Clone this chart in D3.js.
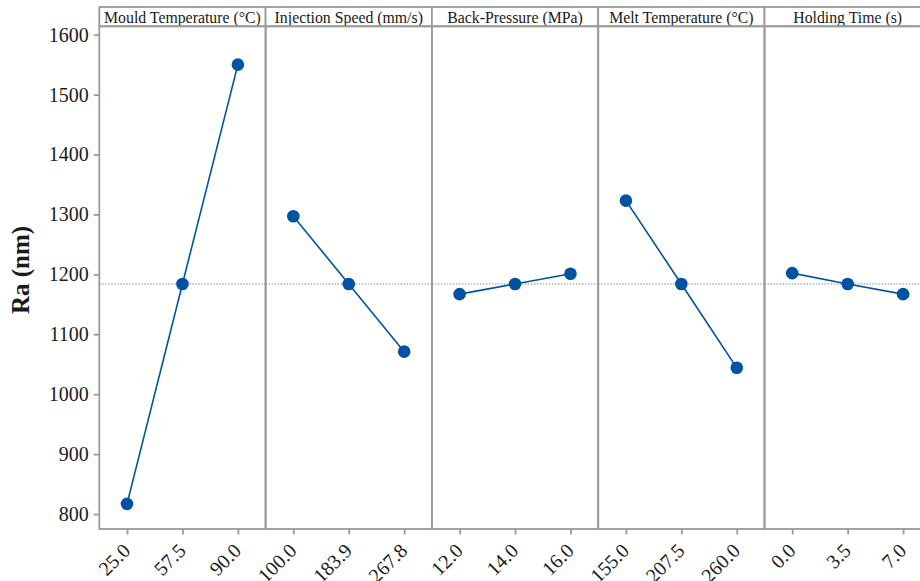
<!DOCTYPE html>
<html>
<head>
<meta charset="utf-8">
<script src="https://cdn.jsdelivr.net/npm/d3@7"></script>
<style>
  html, body { margin: 0; padding: 0; background: #fff; }
  svg { display: block; }
  text { font-family: "Liberation Serif", "Times New Roman", serif; fill: #1a1a1a; }
</style>
</head>
<body>
<svg id="chart" width="920" height="581"></svg>
<script>
const factors = ["Mould Temperature (°C)", "Injection Speed (mm/s)", "Back-Pressure (MPa)", "Melt Temperature (°C)", "Holding Time (s)"];
const levels = [
  ["25.0", "57.5", "90.0"],
  ["100.0", "183.9", "267.8"],
  ["12.0", "14.0", "16.0"],
  ["155.0", "207.5", "260.0"],
  ["0.0", "3.5", "7.0"]
];
const means = [
  [817, 1184, 1550],
  [1297, 1184, 1071],
  [1167, 1184, 1201],
  [1323, 1184, 1044],
  [1202, 1184, 1167]
];
const grandMean = 1184;
const yTicks = [800, 900, 1000, 1100, 1200, 1300, 1400, 1500, 1600];
const yLabel = "Ra (nm)";

const svg = d3.select("#chart");
const left = 99.3, panelW = 166.3, headTop = 7, plotTop = 26.3, plotBottom = 529;
const grey = "#9a9a9a", blue = "#0052a3";

const xPanel = d3.scaleBand().domain(factors).range([left, left + panelW * factors.length]).padding(0);
const y = d3.scaleLinear().domain([775, 1614]).range([plotBottom, plotTop]);

// panels
factors.forEach((f, i) => {
  const px = xPanel(f);
  const g = svg.append("g");
  const xs = d3.scalePoint().domain(levels[i]).range([px, px + panelW]).padding(0.5);

  // header
  g.append("rect").attr("x", px).attr("y", headTop).attr("width", panelW).attr("height", plotTop - headTop)
    .attr("fill", "#fff").attr("stroke", grey).attr("stroke-width", 1.8);
  g.append("text").attr("x", px + panelW / 2).attr("y", headTop + 16)
    .attr("text-anchor", "middle").attr("font-size", 15.8).text(f);

  // plot frame
  g.append("rect").attr("x", px).attr("y", plotTop).attr("width", panelW).attr("height", plotBottom - plotTop)
    .attr("fill", "none").attr("stroke", grey).attr("stroke-width", 1.8);

  // grand mean reference line
  g.append("line").attr("x1", px).attr("x2", px + panelW).attr("y1", y(grandMean)).attr("y2", y(grandMean))
    .attr("stroke", "#8a8a8a").attr("stroke-width", 1).attr("stroke-dasharray", "1.5,1.5");

  // x axis
  const ax = svg.append("g").attr("transform", `translate(0,${plotBottom})`)
    .call(d3.axisBottom(xs).tickSize(5.5).tickSizeOuter(0));
  ax.select(".domain").remove();
  ax.selectAll(".tick line").attr("stroke", grey).attr("stroke-width", 1.8);
  ax.selectAll(".tick text")
    .attr("font-family", "Liberation Serif, serif").attr("font-size", 20).attr("fill", "#1a1a1a")
    .attr("text-anchor", "end")
    .attr("x", 0).attr("y", 0).attr("dy", 0)
    .attr("transform", "translate(4,23) rotate(-45)");

  // series
  const pts = means[i].map((v, j) => ({ x: xs(levels[i][j]), y: y(v) }));
  g.append("path").attr("d", d3.line().x(d => d.x).y(d => d.y)(pts))
    .attr("fill", "none").attr("stroke", blue).attr("stroke-width", 1.6);
  g.selectAll("circle").data(pts).join("circle")
    .attr("cx", d => d.x).attr("cy", d => d.y).attr("r", 6.3).attr("fill", blue);
});

// y axis
const ay = svg.append("g").attr("transform", `translate(${left},0)`)
  .call(d3.axisLeft(y).tickValues(yTicks).tickFormat(d3.format("d")).tickSize(5.5).tickSizeOuter(0).tickPadding(5));
ay.select(".domain").remove();
ay.selectAll(".tick line").attr("stroke", grey).attr("stroke-width", 1.8);
ay.selectAll(".tick text").attr("font-family", "Liberation Serif, serif").attr("font-size", 20).attr("fill", "#1a1a1a");

// y label
svg.append("text").attr("transform", "translate(29,270) rotate(-90)")
  .attr("text-anchor", "middle").attr("font-size", 25).attr("font-weight", "bold").text(yLabel);
</script>
</body>
</html>
